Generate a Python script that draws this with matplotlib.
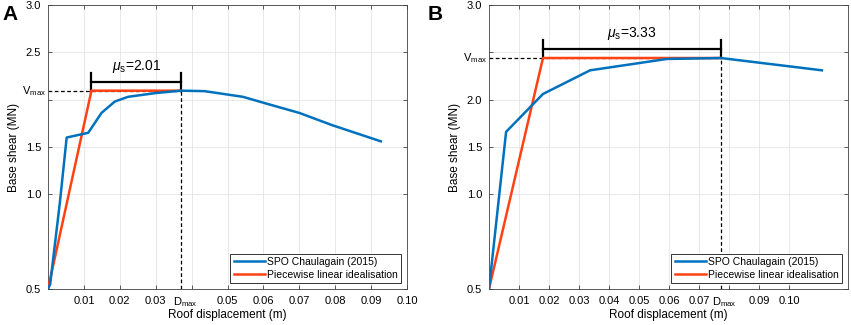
import numpy as np
import matplotlib
matplotlib.use("Agg")
import matplotlib.pyplot as plt

plt.rcParams['font.family'] = ['Liberation Sans', 'DejaVu Sans']
plt.rcParams['mathtext.fontset'] = 'custom'
plt.rcParams['mathtext.rm'] = 'Liberation Sans'
plt.rcParams['mathtext.it'] = 'Liberation Sans:italic'

BLUE = '#0072BD'
RED = '#FF4214'

# Panel A: SPO curve and idealisation
spo_a_x = [0.0, 0.0006, 0.0033, 0.0052, 0.0112, 0.0149, 0.0186, 0.0223, 0.0300,
           0.0371, 0.0436, 0.0543, 0.0607, 0.0700, 0.0792, 0.0927]
spo_a_y = [0.0, 0.05, 0.91, 1.60, 1.65, 1.86, 1.98, 2.03, 2.07,
           2.095, 2.09, 2.03, 1.96, 1.86, 1.73, 1.56]
dy_a = 0.0121
dmax_a = 0.0371
vmax_a = 2.095
mu_a = "2.01"

# Panel B
spo_b_x = [0.0, 0.0057, 0.0180, 0.0337, 0.0593, 0.0773, 0.1110]
spo_b_y = [0.0, 1.66, 2.06, 2.31, 2.43, 2.44, 2.31]
dy_b = 0.0180
dmax_b = 0.0773
vmax_b = 2.44
mu_b = "3.33"

yticks = [0, 1.0, 1.5, 2.0, 2.5, 3.0]
ylabels = ['0.5', '1.0', '1.5', '2.0', '2.5', '3.0']

fig = plt.figure(figsize=(8.51, 3.25), dpi=100)
W, H = 851, 325
axA = fig.add_axes([48 / W, 1 - 289 / H, (407 - 48) / W, (289 - 5) / H])
axB = fig.add_axes([489 / W, 1 - 289 / H, (848 - 489) / W, (289 - 5) / H])


def draw(ax, sx, sy, dy, dmax, vmax, mu, xmax, xt, hide_y, dmax_tick, bar_h, txt_y, letter, letter_x):
    ax.set_xlim(0, xmax)
    ax.set_ylim(0, 3.0)
    ax.set_xticks(xt)
    ax.set_xticklabels(['' if abs(t - dmax_tick) < 1e-9 else '%.2f' % t for t in xt])
    ax.set_yticks(yticks)
    ax.set_yticklabels(['' if abs(t - hide_y) < 1e-9 else l for t, l in zip(yticks, ylabels)])
    ax.tick_params(direction='in', top=True, right=True, labelsize=8, length=3,
                   width=0.6, color='#404040', pad=5)
    ax.grid(True, color='#e4e4e4', lw=0.6)
    ax.set_axisbelow(True)
    for s in ax.spines.values():
        s.set_color('#404040')
        s.set_linewidth(0.6)

    # dashed guide lines
    ax.plot([0, dmax], [vmax, vmax], ls=(0, (3, 2)), color='black', lw=0.9)
    ax.plot([dmax, dmax], [0, vmax], ls=(0, (3, 2)), color='black', lw=0.9)

    ax.plot(sx, sy, color=BLUE, lw=1.8, label='SPO Chaulagain (2015)', zorder=4)
    ax.plot([0, dy, dmax], [0, vmax, vmax], color=RED, lw=1.8,
            label='Piecewise linear idealisation', zorder=3)

    # ductility bracket
    ax.plot([dy, dmax], [bar_h, bar_h], color='black', lw=1.6)
    ax.plot([dy, dy], [vmax, bar_h + 0.095], color='black', lw=1.6)
    ax.plot([dmax, dmax], [vmax, bar_h + 0.095], color='black', lw=1.6)
    ax.text((dy + dmax) / 2, txt_y, r'$\mu_{\mathrm{s}}$=' + mu, ha='center', va='center', fontsize=10)

    ax.annotate(r'V$_{\mathrm{max}}$', xy=(0, vmax), xycoords=('axes fraction', 'data'),
                xytext=(-1, 0), textcoords='offset points', ha='right', va='center', fontsize=8)
    ax.annotate(r'D$_{\mathrm{max}}$', xy=(dmax, 0), xycoords=('data', 'axes fraction'),
                xytext=(-6.2, -4.5), textcoords='offset points', ha='left', va='top', fontsize=8)

    ax.set_xlabel('Roof displacement (m)', fontsize=8.5, labelpad=2)
    ax.set_ylabel('Base shear (MN)', fontsize=8.5, labelpad=4)

    leg = ax.legend(loc='lower right', fontsize=7.5, fancybox=False, framealpha=1,
                    edgecolor='#333333', handlelength=3.0, borderaxespad=0.6,
                    borderpad=0.3, labelspacing=0.25, handletextpad=0.2)
    leg.get_frame().set_linewidth(0.7)

    fig.text(letter_x / W, 1 - 15 / H, letter, fontsize=15, fontweight='bold', ha='left', va='center')


xt_a = [0.01, 0.02, 0.03, 0.04, 0.05, 0.06, 0.07, 0.08, 0.09, 0.10]
xt_b = [0.01, 0.02, 0.03, 0.04, 0.05, 0.06, 0.07, 0.08, 0.09, 0.10]

draw(axA, spo_a_x, spo_a_y, dy_a, dmax_a, vmax_a, mu_a, 0.10, xt_a, 2.0, 0.04, 2.19, 2.35, 'A', 2)
draw(axB, spo_b_x, spo_b_y, dy_b, dmax_b, vmax_b, mu_b, 0.1197, xt_b, 2.5, 0.08, 2.54, 2.70, 'B', 428)

fig.savefig('out.png', dpi=100)
